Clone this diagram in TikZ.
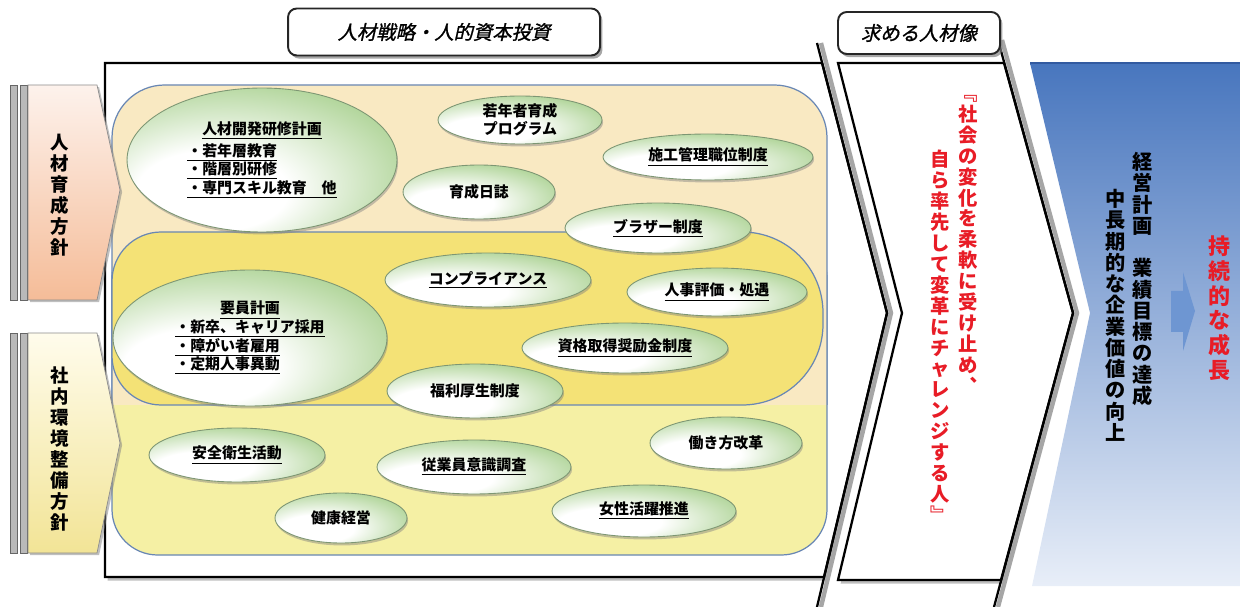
\documentclass[tikz,border=0pt]{standalone}
\usepackage{fontspec}
\setmainfont{Noto Sans CJK JP}
\newfontfamily\slantjp[FakeSlant=0.22,FakeBold=1.2]{Noto Sans CJK JP}
\usetikzlibrary{shapes.geometric,shadows}
\definecolor{beige}{RGB}{249,233,194}
\definecolor{paleyellow}{RGB}{245,240,164}
\definecolor{stryellow}{RGB}{244,226,118}
\definecolor{regionline}{RGB}{105,135,180}
\definecolor{ellgreen}{RGB}{160,204,132}
\definecolor{ellline}{RGB}{125,150,115}
\definecolor{pinktop}{RGB}{253,242,236}
\definecolor{pinkbot}{RGB}{245,188,152}
\definecolor{creamtop}{RGB}{255,252,236}
\definecolor{creambot}{RGB}{242,228,150}
\definecolor{bluetop}{RGB}{72,118,190}
\definecolor{bluemid}{RGB}{150,178,222}
\definecolor{bluebot}{RGB}{232,238,248}
\definecolor{blueline}{RGB}{50,90,160}
\definecolor{arrowblue}{RGB}{110,150,210}
\definecolor{alertred}{RGB}{232,28,38}
\pgfdeclareradialshading{glossy}{\pgfpoint{-12bp}{-14bp}}{color(0bp)=(white); color(14bp)=(white);
  color(38bp)=(ellgreen); color(60bp)=(ellgreen)}

\begin{document}
\begin{tikzpicture}[x=0.02cm, y=-0.02cm,
    measure/.style={ellipse, draw=ellline, line width=0.5pt, inner sep=0pt,
        shading=glossy,
        drop shadow={shadow xshift=0.6pt, shadow yshift=-1.4pt, opacity=0.45},
        font=\bfseries\fontsize{8.5}{10.5}\selectfont, align=center},
    titlebox/.style={draw=black!85, line width=1.1pt, rounded corners=5pt, fill=white,
        drop shadow={shadow xshift=1.4pt, shadow yshift=-1.8pt, opacity=0.7},
        font=\slantjp\fontsize{11}{11}\selectfont, inner sep=0pt},
    vcol/.style={anchor=north, align=center, inner sep=0pt,
        font=\bfseries\fontsize{11}{11.9}\selectfont},
    region/.style={draw=regionline, line width=0.7pt},
    frameline/.style={draw=black, line width=1.3pt},
  ]
  \useasboundingbox (0,0) rectangle (1240,607);

  % blue target panel
  \path[top color=bluetop, middle color=bluemid, bottom color=bluebot]
       (1030,63) -- (1240,63) -- (1240,586) -- (1032,586) -- (1090,313) -- cycle;
  \draw[blueline, line width=1.5pt] (1030,63) -- (1240,63);

  % main frame and second panel
  \filldraw[frameline, fill=white, drop shadow={shadow xshift=1.5pt, shadow yshift=-2pt, opacity=0.5}]
       (105,63) -- (822,63) -- (887,313) -- (824,577) -- (105,577) -- cycle;
  \filldraw[frameline, fill=white, drop shadow={shadow xshift=1.5pt, shadow yshift=-2pt, opacity=0.5}]
       (838,63) -- (1004,63) -- (1073,313) -- (1001,580) -- (838,580) -- (902,313) -- cycle;
  \draw[black!35, line width=2.5pt] (821,43) -- (891,313) -- (821,607);
  \draw[black!35, line width=2.5pt] (1002,40) -- (1077,313) -- (998,607);
  \draw[frameline] (817,43) -- (887,313) -- (817,607);
  \draw[frameline] (998,40) -- (1073,313) -- (994,607);

  % headings
  \node[titlebox, minimum width=6.24cm, minimum height=0.94cm] (strategy) at (444,32) {人材戦略・人的資本投資};
  \node[titlebox, minimum width=3.24cm, minimum height=0.84cm] (ideal) at (919,33) {求める人材像};

  % background regions
  \filldraw[region, fill=paleyellow, rounded corners=26pt] (112,232) rectangle (827,555);
  \filldraw[region, fill=beige, rounded corners=30pt] (112,405) -- (112,85) -- (827,85) -- (827,405);
  \filldraw[region, fill=stryellow] (400,232) [rounded corners=46pt] -- (823,232) -- (823,405)
       -- (400,405) [rounded corners=28pt] -- (112,405) -- (112,232) -- cycle;

  % measures
  \node[measure, minimum width=5.4cm, minimum height=2.88cm] (devplan) at (262,160)
       {\begin{tabular}{@{}l@{}}\multicolumn{1}{@{}c@{}}{\underline{人材開発研修計画}}\\[2pt]
        \underline{・若年層教育}\\ \underline{・階層別研修}\\ \underline{・専門スキル教育　他}\end{tabular}};
  \node[measure, minimum width=3.28cm, minimum height=0.96cm] (youth) at (520,120) {若年者育成\\プログラム};
  \node[measure, minimum width=4.2cm, minimum height=0.92cm] (sitepost) at (708,157) {\underline{施工管理職位制度}};
  \node[measure, minimum width=3.04cm, minimum height=1.08cm] (diary) at (479,192) {育成日誌};
  \node[measure, minimum width=3.72cm, minimum height=1.0cm] (brother) at (658,228) {\underline{ブラザー制度}};
  \node[measure, minimum width=5.48cm, minimum height=2.72cm] (staffing) at (250,338)
       {\begin{tabular}{@{}l@{}}\multicolumn{1}{@{}c@{}}{\underline{要員計画}}\\
        \underline{・新卒、キャリア採用}\\ \underline{・障がい者雇用}\\ \underline{・定期人事異動}\end{tabular}};
  \node[measure, minimum width=4.12cm, minimum height=1.08cm] (compliance) at (488,280) {\underline{コンプライアンス}};
  \node[measure, minimum width=3.6cm, minimum height=0.96cm] (appraisal) at (717,292) {\underline{人事評価・処遇}};
  \node[measure, minimum width=4.12cm, minimum height=1.0cm] (license) at (625,348) {\underline{資格取得奨励金制度}};
  \node[measure, minimum width=3.52cm, minimum height=1.08cm] (welfare) at (475,391) {福利厚生制度};
  \node[measure, minimum width=3.52cm, minimum height=1.08cm] (safety) at (237,455) {\underline{安全衛生活動}};
  \node[measure, minimum width=3.88cm, minimum height=1.08cm] (survey) at (474,467) {\underline{従業員意識調査}};
  \node[measure, minimum width=3.04cm, minimum height=1.04cm] (workstyle) at (726,443) {働き方改革};
  \node[measure, minimum width=2.64cm, minimum height=1.0cm] (health) at (341,518) {健康経営};
  \node[measure, minimum width=3.68cm, minimum height=1.04cm] (women) at (644,511) {\underline{女性活躍推進}};

  % policy arrows
  \filldraw[fill=gray!55, draw=black!60, line width=0.5pt] (10,85) rectangle (17,300);
  \filldraw[fill=gray!55, draw=black!60, line width=0.5pt] (20,85) rectangle (27,300);
  \path[draw=black!45, top color=pinktop, bottom color=pinkbot,
        drop shadow={shadow xshift=1.2pt, shadow yshift=-1.2pt, opacity=0.5}]
       (28,85) -- (97,85) -- (120,190) -- (97,300) -- (28,300) -- cycle;
  \filldraw[fill=gray!55, draw=black!60, line width=0.5pt] (10,333) rectangle (17,553);
  \filldraw[fill=gray!55, draw=black!60, line width=0.5pt] (20,333) rectangle (27,553);
  \path[draw=black!45, top color=creamtop, bottom color=creambot,
        drop shadow={shadow xshift=1.2pt, shadow yshift=-1.2pt, opacity=0.5}]
       (28,333) -- (97,333) -- (120,443) -- (97,553) -- (28,553) -- cycle;
  \node[vcol, anchor=center, font=\bfseries\fontsize{10.5}{12}\selectfont] (growthpolicy) at (60,195)
       {人\\材\\育\\成\\方\\針};
  \node[vcol, anchor=center, font=\bfseries\fontsize{10.5}{12}\selectfont] (envpolicy) at (60,449)
       {社\\内\\環\\境\\整\\備\\方\\針};

  % ideal person
  \node[vcol, text=alertred] (idealA) at (968,95)
       {﹃\\社\\会\\の\\変\\化\\を\\柔\\軟\\に\\受\\け\\止\\め\\︑};
  \node[vcol, text=alertred] (idealB) at (940,150)
       {自\\ら\\率\\先\\し\\て\\変\\革\\に\\チ\\ャ\\レ\\ン\\ジ\\す\\る\\人\\﹄};

  % business goals
  \node[vcol, font=\bfseries\fontsize{11.5}{12.1}\selectfont] (goalA) at (1143,152)
       {経\\営\\計\\画\\　\\業\\績\\目\\標\\の\\達\\成};
  \node[vcol, font=\bfseries\fontsize{11.5}{12.1}\selectfont] (goalB) at (1116,189)
       {中\\長\\期\\的\\な\\企\\業\\価\\値\\の\\向\\上};
  \fill[arrowblue] (1171,291) -- (1183,291) -- (1183,272) -- (1195,311) -- (1183,351) -- (1183,332) -- (1171,332) -- cycle;
  \node[vcol, text=alertred, font=\bfseries\fontsize{12.5}{14.2}\selectfont] (sustain) at (1219,235)
       {持\\続\\的\\な\\成\\長};
\end{tikzpicture}
\end{document}
